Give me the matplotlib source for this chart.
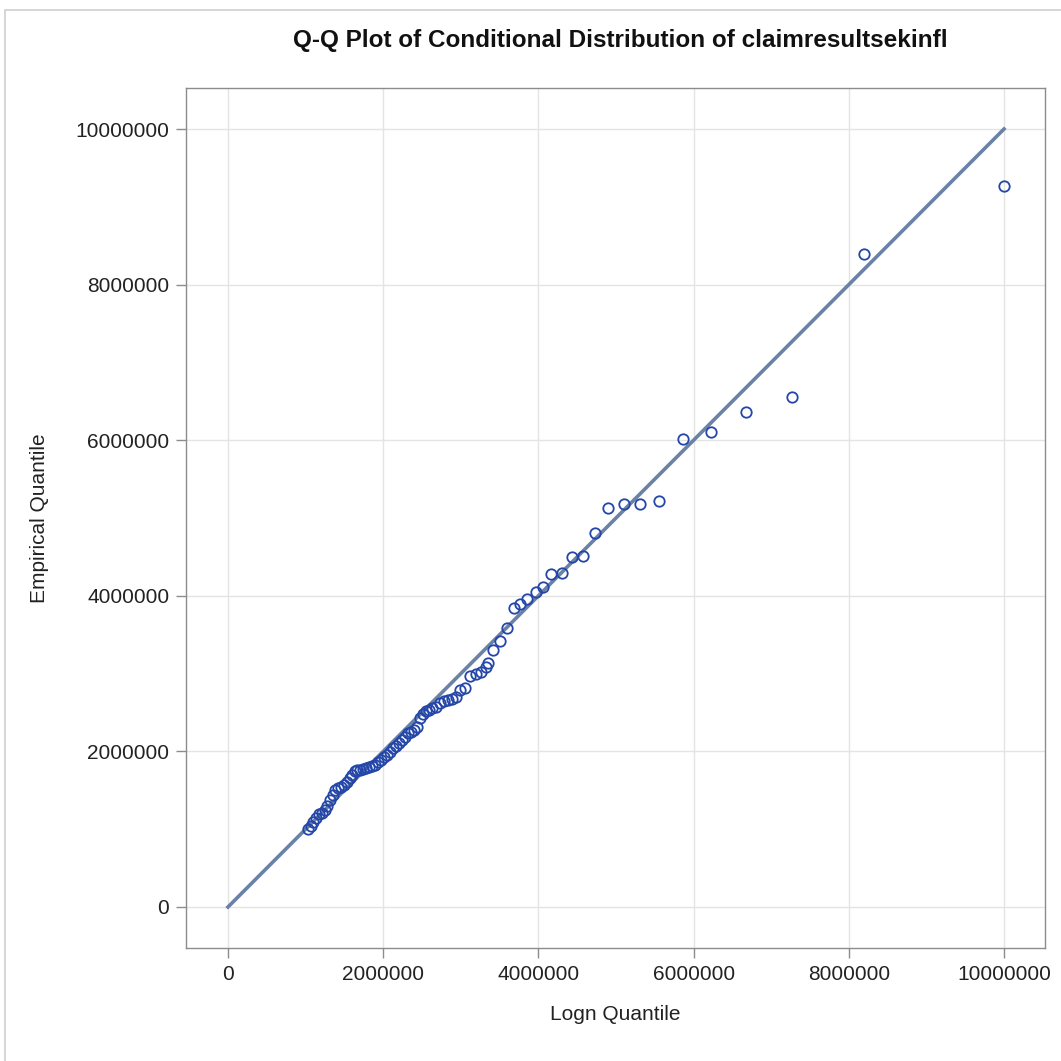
import matplotlib
matplotlib.use("Agg")
import matplotlib.pyplot as plt
from matplotlib.patches import Rectangle

plt.rcParams['font.family'] = ['Liberation Sans', 'DejaVu Sans']

# Q-Q data (in millions)
logn_quantile = [
    1.031, 1.070, 1.095, 1.134, 1.173, 1.211, 1.250, 1.276, 1.314, 1.353,
    1.379, 1.418, 1.456, 1.495, 1.534, 1.572, 1.598, 1.637, 1.662, 1.701,
    1.740, 1.778, 1.817, 1.856, 1.894, 1.933, 1.972, 2.010, 2.049, 2.088,
    2.126, 2.165, 2.204, 2.242, 2.281, 2.320, 2.358, 2.397, 2.436, 2.474,
    2.513, 2.552, 2.590, 2.629, 2.680, 2.732, 2.784, 2.835, 2.887, 2.938,
    2.990, 3.054, 3.119, 3.196, 3.260, 3.325, 3.35, 3.41, 3.51, 3.60,
    3.69, 3.76, 3.85, 3.97, 4.06, 4.16, 4.30, 4.43, 4.57, 4.73,
    4.90, 5.10, 5.31, 5.55, 5.86, 6.22, 6.68, 7.27, 8.20, 10.00]
empirical_quantile = [
    1.003, 1.041, 1.093, 1.144, 1.195, 1.208, 1.247, 1.298, 1.375, 1.440,
    1.504, 1.530, 1.542, 1.568, 1.607, 1.658, 1.697, 1.748, 1.761, 1.761,
    1.774, 1.787, 1.799, 1.812, 1.825, 1.864, 1.889, 1.928, 1.954, 1.992,
    2.044, 2.069, 2.108, 2.147, 2.185, 2.237, 2.249, 2.275, 2.314, 2.429,
    2.481, 2.519, 2.532, 2.558, 2.571, 2.622, 2.648, 2.661, 2.674, 2.699,
    2.789, 2.815, 2.969, 2.995, 3.021, 3.085, 3.14, 3.30, 3.42, 3.59,
    3.84, 3.89, 3.96, 4.05, 4.11, 4.28, 4.29, 4.50, 4.51, 4.81,
    5.13, 5.18, 5.18, 5.22, 6.02, 6.11, 6.36, 6.56, 8.39, 9.27]
ref_line = [0, 10000000]
ticks = [0, 2000000, 4000000, 6000000, 8000000, 10000000]
tick_labels = ['0', '2000000', '4000000', '6000000', '8000000', '10000000']

xs = [v * 1e6 for v in logn_quantile]
ys = [v * 1e6 for v in empirical_quantile]

fig = plt.figure(figsize=(10.61, 10.61), dpi=100)
fig.patches.append(Rectangle((5/1061, -0.1), 1.2, 1.1 - 10/1061, transform=fig.transFigure,
                             fill=False, edgecolor='#d0d0d0', linewidth=1.2))
ax = fig.add_axes([186/1061, 1 - 948/1061, (1045 - 186)/1061, (948 - 88)/1061])

ax.plot(ref_line, ref_line, color='#6A82A6', linewidth=2.6, zorder=2)
ax.plot(xs, ys, linestyle='none', marker='o', markersize=7.5,
        markerfacecolor='none', markeredgecolor='#2346A8', markeredgewidth=1.3, zorder=3)

ax.set_xlim(-0.541e6, 10.528e6)
ax.set_ylim(-0.527e6, 10.527e6)
ax.set_xticks(ticks)
ax.set_xticklabels(tick_labels)
ax.set_yticks(ticks)
ax.set_yticklabels(tick_labels)
ax.grid(True, color='#e4e4e4', linewidth=1.0)
ax.set_axisbelow(True)
for s in ax.spines.values():
    s.set_color('#8c8c8c')
    s.set_linewidth(1.0)
ax.tick_params(axis='both', direction='out', length=7, width=1, color='#8c8c8c',
               labelsize=15, labelcolor='#222222', pad=5)

ax.set_xlabel('Logn Quantile', fontsize=15, color='#222222', va='center')
ax.set_ylabel('Empirical Quantile', fontsize=15, color='#222222', va='center', ha='center')
ax.xaxis.set_label_coords(0.5, (948 - 1014) / 860)
ax.yaxis.set_label_coords((40 - 186) / 859, 0.5)
fig.text(620/1061, 1 - 41/1061, 'Q-Q Plot of Conditional Distribution of claimresultsekinfl',
         ha='center', va='center', fontsize=17.5, fontweight='bold', color='#111111')

fig.savefig('out.png', dpi=100)
